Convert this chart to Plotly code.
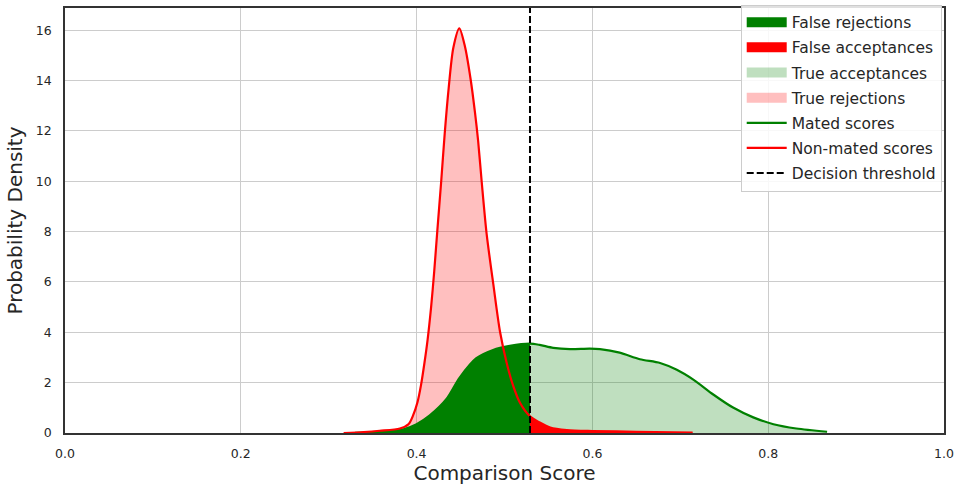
import numpy as np
import plotly.graph_objects as go

# Decision threshold on the comparison score
threshold = 0.529

# Mated (genuine) comparison score density
mated_x = [0.33, 0.36, 0.385, 0.40, 0.415, 0.434, 0.449, 0.468, 0.487, 0.506, 0.529,
           0.540, 0.5555, 0.5745, 0.597, 0.6086, 0.631, 0.654, 0.677, 0.696, 0.7148,
           0.7375, 0.760, 0.783, 0.806, 0.832, 0.867]
mated_y = [0.01, 0.06, 0.15, 0.35, 0.70, 1.35, 2.20, 2.97, 3.30, 3.46, 3.55,
           3.50, 3.38, 3.33, 3.35, 3.33, 3.19, 2.93, 2.78, 2.51, 2.12,
           1.53, 1.01, 0.62, 0.35, 0.18, 0.05]

# Non-mated (impostor) comparison score density
nonmated_x = [0.317, 0.34, 0.358, 0.381, 0.391, 0.396, 0.401, 0.405, 0.409, 0.4125,
              0.4165, 0.420, 0.4235, 0.428, 0.432, 0.4365, 0.4418, 0.4486, 0.455,
              0.4615, 0.4664, 0.470, 0.474, 0.4797, 0.4873, 0.495, 0.5025, 0.510,
              0.5176, 0.529, 0.540, 0.552, 0.571, 0.60, 0.65, 0.714]
nonmated_y = [0.0, 0.04, 0.09, 0.18, 0.36, 0.70, 1.22, 1.9, 2.8, 3.7,
              5.0, 6.4, 8.0, 10.0, 11.9, 13.7, 15.3, 16.07, 15.35,
              14.04, 12.73, 11.6, 10.0, 7.9, 5.9, 4.0, 2.78, 1.86,
              1.2, 0.66, 0.42, 0.22, 0.12, 0.08, 0.05, 0.02]

x_ticks = [0.0, 0.2, 0.4, 0.6, 0.8, 1.0]
y_ticks = [0, 2, 4, 6, 8, 10, 12, 14, 16]
x_range = [0.0, 1.0]
y_range = [0.0, 16.88]

GREEN = "#008000"
RED = "#ff0000"
LIGHT_GREEN = "rgba(0,128,0,0.25)"
LIGHT_RED = "rgba(255,0,0,0.25)"
TEXT = "#262626"
FONT = "DejaVu Sans"

mx, my = np.array(mated_x), np.array(mated_y)
nx, ny = np.array(nonmated_x), np.array(nonmated_y)
m_lo, m_hi = mx <= threshold, mx >= threshold
n_lo, n_hi = nx <= threshold, nx >= threshold

fig = go.Figure()


def area(x, y, color):
    fig.add_trace(go.Scatter(
        x=x, y=y, mode="lines", fill="tozeroy", fillcolor=color,
        line=dict(width=0, shape="spline", smoothing=0.8, color=color),
        showlegend=False, hoverinfo="skip"))


# Shaded regions below/above the threshold
area(nx[n_lo], ny[n_lo], LIGHT_RED)      # true rejections
area(mx[m_lo], my[m_lo], GREEN)          # false rejections
area(mx[m_hi], my[m_hi], LIGHT_GREEN)    # true acceptances
area(nx[n_hi], ny[n_hi], RED)            # false acceptances

# Legend swatches for the shaded regions
swatches = [("False rejections", GREEN), ("False acceptances", RED),
            ("True acceptances", LIGHT_GREEN), ("True rejections", LIGHT_RED)]
for rank, (label, color) in enumerate(swatches, start=1):
    fig.add_trace(go.Scatter(
        x=[None], y=[None], mode="lines", name=label,
        line=dict(color=color, width=10),
        legendrank=rank, legendgroup=label))

# Density curves
fig.add_trace(go.Scatter(
    x=mated_x, y=mated_y, mode="lines", name="Mated scores",
    line=dict(color=GREEN, width=2.2, shape="spline", smoothing=0.8),
    legendrank=5, legendgroup="mated"))
fig.add_trace(go.Scatter(
    x=nonmated_x, y=nonmated_y, mode="lines", name="Non-mated scores",
    line=dict(color=RED, width=2.2, shape="spline", smoothing=0.8),
    legendrank=6, legendgroup="nonmated"))

# Decision threshold
fig.add_trace(go.Scatter(
    x=[threshold, threshold], y=y_range, mode="lines", name="Decision threshold",
    line=dict(color="black", width=2, dash="7px,3px"),
    legendrank=7, legendgroup="threshold"))

axis_common = dict(
    showgrid=True, gridcolor="#cccccc", gridwidth=1,
    zeroline=False, showline=True, mirror=True,
    linecolor="#333333", linewidth=1.5,
    ticks="outside", tickcolor="rgba(0,0,0,0)",
    tickfont=dict(family=FONT, size=12.5, color=TEXT),
    automargin=False,
)

fig.update_xaxes(
    range=x_range, tickvals=x_ticks, tickformat=".1f", ticklen=8,
    title=dict(text="Comparison Score", standoff=6,
               font=dict(family=FONT, size=20, color=TEXT)),
    **axis_common)
fig.update_yaxes(
    range=y_range, tickvals=y_ticks, ticklen=9,
    title=dict(text="Probability Density", standoff=8,
               font=dict(family=FONT, size=20, color=TEXT)),
    **axis_common)

fig.update_layout(
    width=964, height=490,
    margin=dict(l=65, r=20, t=5, b=57),
    plot_bgcolor="white", paper_bgcolor="white",
    font=dict(family=FONT, color=TEXT),
    legend=dict(
        x=0.9974, y=1.008, xanchor="right", yanchor="top",
        bgcolor="rgba(255,255,255,0.85)", bordercolor="#cccccc", borderwidth=1,
        font=dict(family=FONT, size=15.5, color=TEXT),
        tracegroupgap=2, itemwidth=40,
    ),
)

fig.write_html("out.html")
